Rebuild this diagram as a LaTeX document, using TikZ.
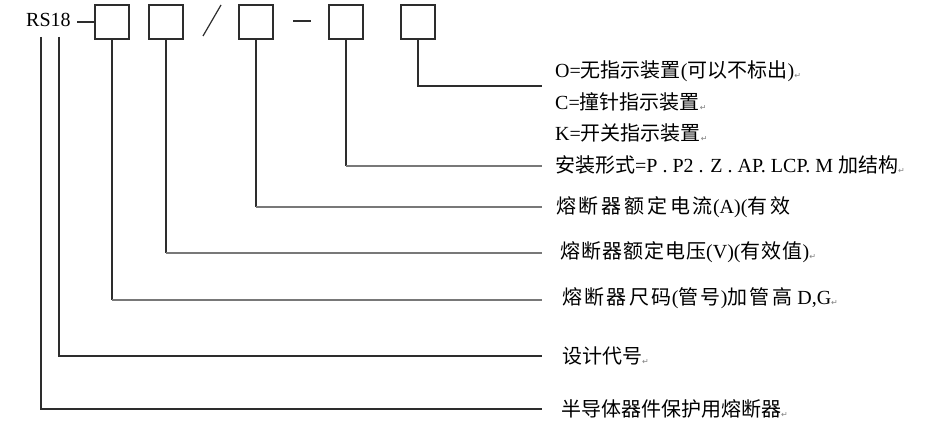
\documentclass[tikz,border=0pt]{standalone}
\usepackage{fontspec}
\setmainfont{Liberation Serif}
\newfontfamily\cjkfont{Noto Sans CJK SC}
\newfontfamily\symfont{DejaVu Sans}
\newcommand{\zhtext}[1]{{\cjkfont #1}}
\newcommand{\zhsp}[2]{{\cjkfont\addfontfeature{LetterSpace=#1}#2}}
\newcommand{\wordmark}{{\symfont\fontsize{8}{8}\selectfont\color{gray}\raisebox{-1pt}{↵}}}
\definecolor{linedark}{RGB}{45,45,45}
\definecolor{linegray}{RGB}{120,120,120}
\tikzset{
  codebox/.style={draw=linedark, line width=1.3pt, minimum width=34pt, minimum height=34pt, inner sep=0pt},
  dk/.style={draw=linedark, line width=1.2pt},
  gy/.style={draw=linegray, line width=1.4pt},
  lab/.style={anchor=base west, inner sep=0pt, font=\fontsize{20}{24}\selectfont},
}
\begin{document}
\begin{tikzpicture}[x=1pt,y=-1pt]
\useasboundingbox[fill=white] (0,0) rectangle (952,443);
% code line
\node[lab] (rs) at (26,27) {RS18};
\node[codebox] (b1) at (112,22) {};
\node[codebox] (b2) at (166,22) {};
\node[codebox] (b3) at (256,22) {};
\node[codebox] (b4) at (346,22) {};
\node[codebox] (b5) at (418,22) {};
\coordinate (rsend) at (77,22);
\draw[dk] (rsend) -- (b1.west);
\draw[dk] (203,36) -- (221,5);
\draw[dk] (293,21) -- (311,21);
% labels
\node[lab] (l1) at (555,78) {O=\zhtext{无指示装置}(\zhtext{可以不标出})\wordmark};
\node[lab] (l2) at (555,110) {C=\zhtext{撞针指示装置}\wordmark};
\node[lab] (l3) at (555,141) {K=\zhtext{开关指示装置}\wordmark};
\node[lab] (l4) at (555,173) {\zhtext{安装形式}=P . P2 . Z . AP. LCP. M \zhtext{加结构}\wordmark};
\node[lab] (l5) at (556,214) {\zhsp{14}{熔断器额定电流}(A)(\zhsp{14}{有效}};
\node[lab] (l6) at (560,259) {\zhsp{5}{熔断器额定电压}(V)(\zhsp{5}{有效值})\wordmark};
\node[lab] (l7) at (562,305) {\zhsp{12}{熔断器尺码}(\zhsp{12}{管号})\zhsp{12}{加管高} D,G\wordmark};
\node[lab] (l8) at (562,363) {\zhtext{设计代号}\wordmark};
\node[lab] (l9) at (561,416) {\zhtext{半导体器件保护用熔断器}\wordmark};
% connector ends
\coordinate (e5) at (542,86);
\coordinate (e4) at (542,166);
\coordinate (e3) at (542,207);
\coordinate (e2) at (542,253);
\coordinate (e1) at (542,300);
\coordinate (eB) at (542,356);
\coordinate (eA) at (542,409);
\coordinate (rA) at (41,37);
\coordinate (rB) at (59,37);
% connectors
\draw[dk] (b5.south) |- (e5);
\draw[dk] (b4.south) -- (b4.south |- e4);
\draw[gy] (b4.south |- e4) -- (e4);
\draw[dk] (b3.south) -- (b3.south |- e3);
\draw[gy] (b3.south |- e3) -- (e3);
\draw[dk] (b2.south) -- (b2.south |- e2);
\draw[gy] (b2.south |- e2) -- (e2);
\draw[dk] (b1.south) -- (b1.south |- e1);
\draw[gy] (b1.south |- e1) -- (e1);
\draw[dk] (rB) |- (eB);
\draw[dk] (rA) |- (eA);
\end{tikzpicture}
\end{document}
